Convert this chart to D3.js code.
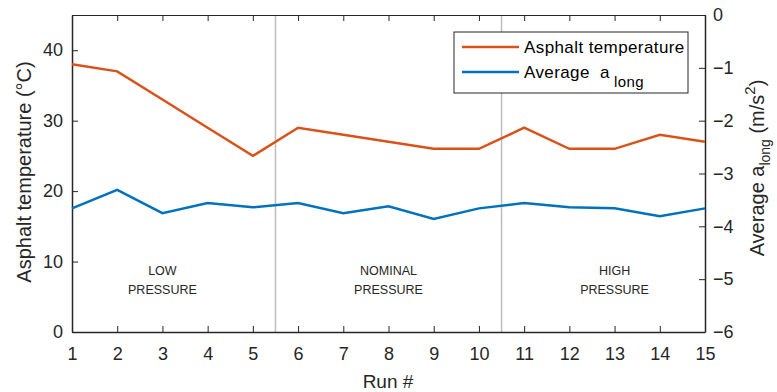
<!DOCTYPE html>
<html>
  <head>
    <meta charset="utf-8">
    <title>Asphalt temperature and a_long</title>
    <style type="text/css">
     html, body { margin: 0; padding: 0; background: #fff; }
     svg { font-family: "Liberation Sans", Arial, sans-serif; }
     .axis text { font-size: 18px; fill: #262626; }
     .axis path, .axis line { stroke: #262626; }
     .region { font-size: 12.5px; fill: #262626; text-anchor: middle; }
    </style>
  </head>
  <body>
    <svg width="777" height="392"></svg>
    <script src="https://cdn.jsdelivr.net/npm/d3@7"></script>
    <script>
     var runs = [1, 2, 3, 4, 5, 6, 7, 8, 9, 10, 11, 12, 13, 14, 15];
     var temperature = [38, 37, 33, 29, 25, 29, 28, 27, 26, 26, 29, 26, 26, 28, 27];
     var aLong = [-3.66, -3.31, -3.75, -3.56, -3.64, -3.56, -3.75, -3.62, -3.86, -3.66, -3.56, -3.64, -3.66, -3.81, -3.66];
     var dividers = [5.5, 10.5];
     var regions = [
       {x: 3, lines: ["LOW", "PRESSURE"]},
       {x: 8, lines: ["NOMINAL", "PRESSURE"]},
       {x: 13, lines: ["HIGH", "PRESSURE"]}
     ];

     var svg = d3.select("svg");
     var plotL = 72, plotR = 705, plotT = 15, plotB = 332;

     var x = d3.scaleLinear().domain([1, 15]).range([plotL, plotR]);
     var yL = d3.scaleLinear().domain([0, 45]).range([plotB, plotT]);
     var yR = d3.scaleLinear().domain([-6, 0]).range([plotB, plotT]);

     // dividers
     svg.append("g").selectAll("line")
       .data(dividers).enter().append("line")
       .attr("x1", d => x(d)).attr("x2", d => x(d))
       .attr("y1", plotT).attr("y2", plotB)
       .attr("stroke", "#bdbdbd").attr("stroke-width", 1.5);

     // region labels
     regions.forEach(function (r) {
       r.lines.forEach(function (t, i) {
         svg.append("text").attr("class", "region")
           .attr("x", x(r.x)).attr("y", 275 + i * 19)
           .text(t);
       });
     });

     // axes
     svg.append("g").attr("class", "axis")
       .attr("transform", `translate(0,${plotB})`)
       .call(d3.axisBottom(x).tickValues(runs).tickSizeInner(-6).tickSizeOuter(0).tickPadding(15))
       .call(g => g.select(".domain").attr("stroke-width", 1.5));
     svg.append("g").attr("class", "axis")
       .attr("transform", `translate(0,${plotT})`)
       .call(d3.axisTop(x).tickValues(runs).tickSizeInner(-6).tickSizeOuter(0).tickFormat(""))
       .call(g => g.select(".domain").attr("stroke-width", 1.2));
     svg.append("g").attr("class", "axis")
       .attr("transform", `translate(${plotL},0)`)
       .call(d3.axisLeft(yL).tickValues([0, 10, 20, 30, 40]).tickSizeInner(-6).tickSizeOuter(0).tickPadding(9))
       .call(g => g.select(".domain").attr("stroke-width", 1.5));
     svg.append("g").attr("class", "axis")
       .attr("transform", `translate(${plotR},0)`)
       .call(d3.axisRight(yR).ticks(6).tickSizeInner(-6).tickSizeOuter(0).tickPadding(8))
       .call(g => g.select(".domain").attr("stroke-width", 1.5));

     // lines
     var lineT = d3.line().x((d, i) => x(runs[i])).y(d => yL(d));
     var lineA = d3.line().x((d, i) => x(runs[i])).y(d => yR(d));
     svg.append("path").datum(temperature).attr("d", lineT)
       .attr("fill", "none").attr("stroke", "#D95319").attr("stroke-width", 2.5);
     svg.append("path").datum(aLong).attr("d", lineA)
       .attr("fill", "none").attr("stroke", "#0072BD").attr("stroke-width", 2.5);

     // axis labels
     svg.append("text").attr("x", 388).attr("y", 388)
       .attr("text-anchor", "middle").attr("font-size", 19).attr("fill", "#262626")
       .text("Run #");
     svg.append("text")
       .attr("transform", `translate(31,172) rotate(-90)`)
       .attr("text-anchor", "middle").attr("font-size", 20).attr("fill", "#262626")
       .text("Asphalt temperature (°C)");
     var rl = svg.append("text")
       .attr("transform", `translate(764,168) rotate(-90)`)
       .attr("text-anchor", "middle").attr("font-size", 20).attr("fill", "#262626");
     rl.append("tspan").text("Average a");
     rl.append("tspan").attr("font-size", 14).attr("dy", 6).text("long");
     rl.append("tspan").attr("dy", -6).text(" (m/s");
     rl.append("tspan").attr("font-size", 15).attr("dy", -9).text("2");
     rl.append("tspan").attr("dy", 9).text(")");

     // legend
     var lg = svg.append("g");
     lg.append("rect").attr("x", 454).attr("y", 32).attr("width", 234).attr("height", 61)
       .attr("fill", "#fff").attr("stroke", "#262626").attr("stroke-width", 1);
     var items = [{label: "Asphalt temperature", color: "#D95319"}, {label: "Average  a", sub: "long", color: "#0072BD"}];
     items.forEach(function (d, i) {
       var yy = 47 + i * 25;
       lg.append("line").attr("x1", 462).attr("x2", 519).attr("y1", yy).attr("y2", yy)
         .attr("stroke", d.color).attr("stroke-width", 2.5);
       var t = lg.append("text").attr("x", 524).attr("y", yy + 6)
         .attr("font-size", 17).attr("letter-spacing", 0.4).attr("fill", "#000")
         .attr("xml:space", "preserve");
       t.append("tspan").text(d.label);
       if (d.sub) t.append("tspan").attr("font-size", 15).attr("dy", 9).attr("dx", 4).text(d.sub);
     });
    </script>
  </body>
</html>
